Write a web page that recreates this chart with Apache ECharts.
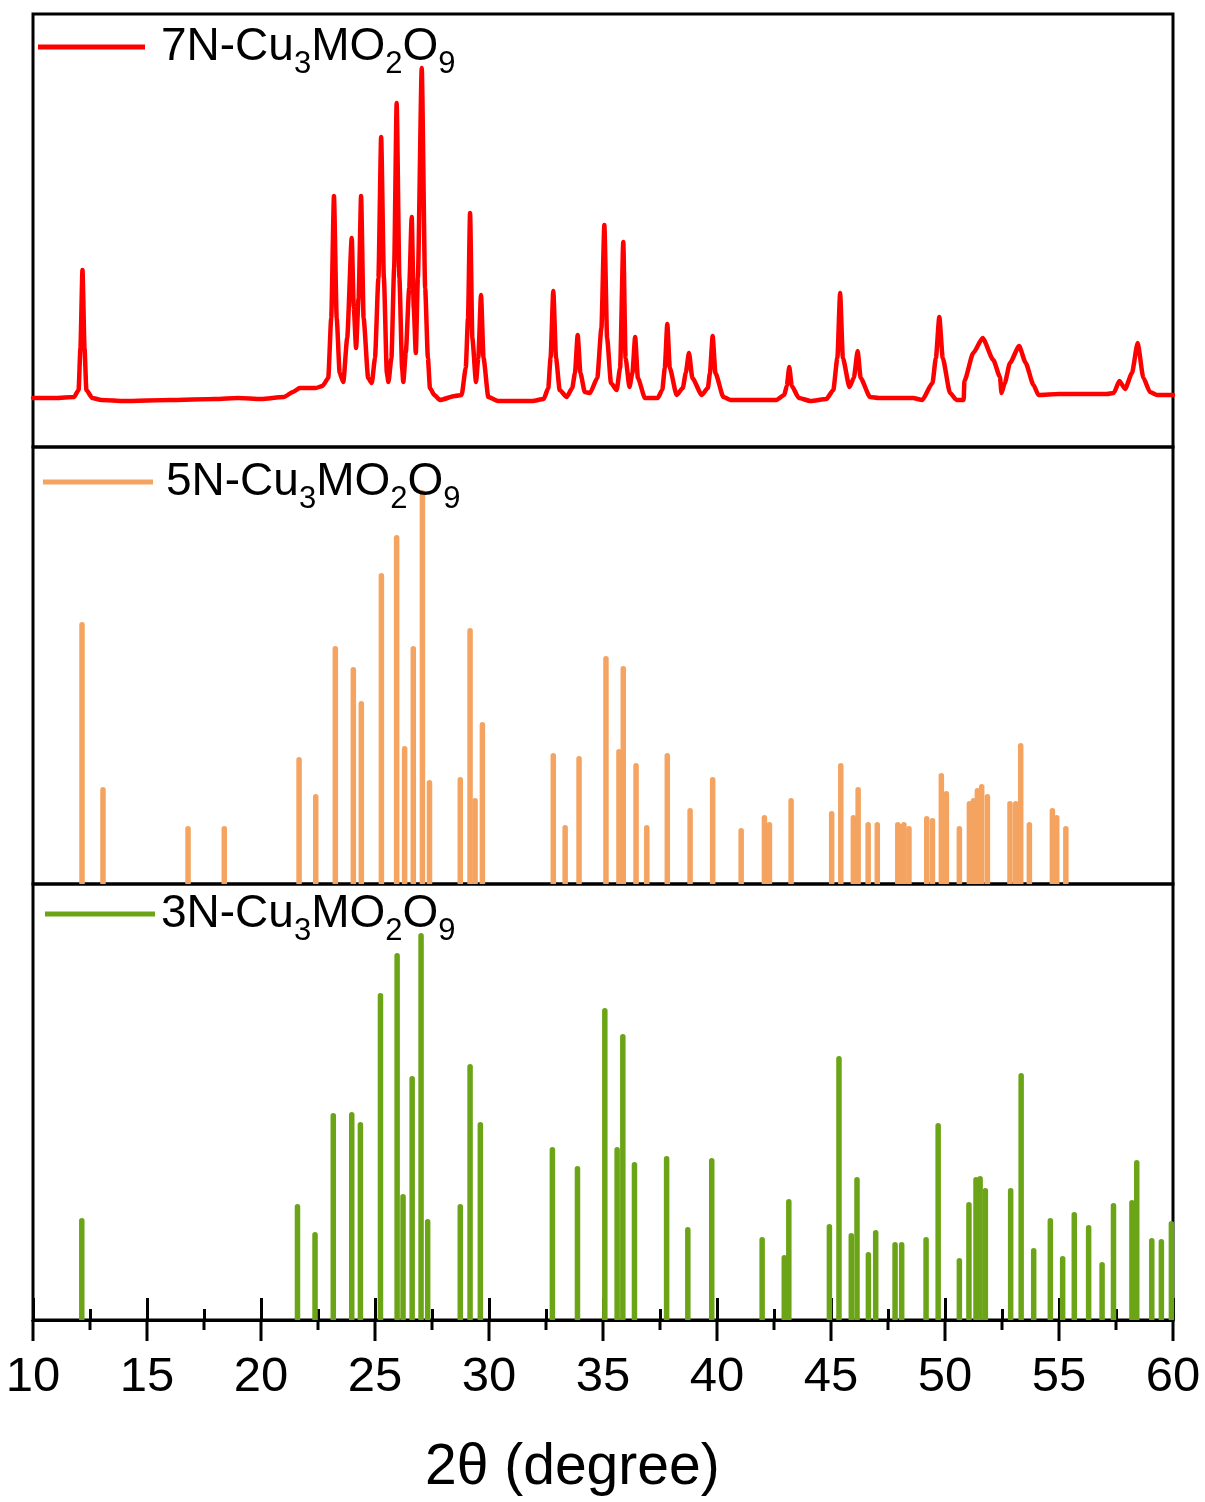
<!DOCTYPE html>
<html>
<head>
<meta charset="utf-8">
<script src="https://cdn.jsdelivr.net/npm/echarts@6/dist/echarts.min.js"></script>
<style>html,body{margin:0;padding:0;background:#fff;}#chart{width:1205px;height:1502px;}</style>
</head>
<body>
<div id="chart"></div>
<script>
// 2θ range and tick labels
var xMin = 10, xMax = 60, xInterval = 5;
var majorTickValues = [10, 15, 20, 25, 30, 35, 40, 45, 50, 55, 60];
var minorTickValues = [12.5, 17.5, 22.5, 27.5, 32.5, 37.5, 42.5, 47.5, 52.5, 57.5];

// 7N-Cu3MO2O9 measured pattern: [2θ, intensity (a.u.)]
var pattern7N = [[10.0,0],[11.0,0],[11.8,1],[12.0,8],[12.08,50],[12.17,128],[12.26,50],[12.34,8],[12.6,0],[13.0,-2],[14.0,-3],[16.0,-2],[18.0,-1],[19.0,0],[20.0,-1],[21.0,1],[21.4,6],[21.7,10],[22.4,10],[22.7,12],[22.95,20],[23.08,80],[23.20,202],[23.32,80],[23.45,25],[23.61,16],[23.78,60],[23.98,160],[24.07,90],[24.17,50],[24.28,100],[24.39,202],[24.50,80],[24.70,20],[24.86,15],[25.0,40],[25.15,120],[25.27,261],[25.39,120],[25.52,25],[25.59,16],[25.72,40],[25.84,130],[25.95,295],[26.07,120],[26.19,30],[26.24,16],[26.35,45],[26.50,110],[26.61,181],[26.70,90],[26.79,45],[26.88,120],[27.05,330],[27.20,110],[27.32,40],[27.41,10],[27.6,3],[27.85,-2],[28.5,2],[28.8,3],[28.98,30],[29.08,80],[29.17,185],[29.27,60],[29.43,16],[29.53,40],[29.65,103],[29.76,40],[29.97,1],[30.4,-3],[31.9,-3],[32.4,-1],[32.6,10],[32.70,40],[32.82,107],[32.94,40],[33.1,8],[33.41,1],[33.65,10],[33.77,25],[33.89,63],[34.01,25],[34.2,6],[34.43,5],[34.75,20],[34.93,70],[35.06,173],[35.18,60],[35.35,15],[35.60,8],[35.75,30],[35.89,156],[35.99,40],[36.16,11],[36.29,25],[36.41,61],[36.53,20],[36.84,0],[37.4,0],[37.6,8],[37.71,30],[37.82,74],[37.93,30],[38.23,3],[38.5,10],[38.63,25],[38.77,45],[38.92,20],[39.33,3],[39.6,10],[39.69,25],[39.81,62],[39.93,25],[40.28,1],[40.6,-2],[42.6,-2],[42.95,3],[43.06,12],[43.17,31],[43.28,12],[43.59,0],[44.1,-3],[44.8,-1],[45.1,8],[45.28,40],[45.40,105],[45.52,40],[45.81,11],[46.0,20],[46.17,47],[46.30,20],[46.71,1],[47.1,0],[48.6,0],[49.0,-2],[49.45,15],[49.60,40],[49.75,81],[49.90,40],[50.22,5],[50.51,-2],[50.82,-2],[50.85,17],[51.24,45],[51.65,60],[52.12,38],[52.41,21],[52.48,5],[52.62,15],[52.85,35],[53.25,52],[53.54,35],[53.88,13],[54.10,3],[55.0,4],[57.1,4],[57.4,5],[57.65,17],[57.90,9],[58.2,25],[58.45,55],[58.7,20],[58.99,6],[59.3,3],[60.0,3]];

// 5N-Cu3MO2O9 reflections: [2θ, intensity]
var sticks5N = [[12.15,262],[13.07,97],[16.80,58],[18.39,58],[21.67,127],[22.40,90],[23.26,238],[24.05,217],[24.40,183],[25.28,311],[25.95,349],[26.30,138],[26.68,238],[27.08,394],[27.39,104],[28.74,107],[29.17,256],[29.39,86],[29.71,162],[32.82,131],[33.34,59],[33.95,128],[35.13,228],[35.70,135],[35.89,218],[36.45,121],[36.92,59],[37.82,131],[38.82,76],[39.81,107],[41.06,56],[42.08,69],[42.30,62],[43.25,86],[45.03,73],[45.43,121],[45.98,69],[46.19,97],[46.63,62],[47.03,62],[47.93,62],[48.06,60],[48.20,62],[48.42,58],[49.20,68],[49.45,66],[49.84,111],[50.06,93],[50.63,58],[51.07,83],[51.25,86],[51.42,96],[51.61,100],[51.86,90],[52.85,83],[53.10,83],[53.32,141],[53.70,62],[54.71,76],[54.90,69],[55.30,58]];

// 3N-Cu3MO2O9 reflections: [2θ, intensity]
var sticks3N = [[12.14,102],[21.60,116],[22.37,88],[23.17,207],[23.98,208],[24.36,198],[25.24,327],[25.97,367],[26.23,126],[26.63,244],[27.02,387],[27.31,101],[28.74,116],[29.17,256],[29.62,198],[32.78,173],[33.88,154],[35.08,312],[35.62,173],[35.87,286],[36.38,158],[37.79,164],[38.72,93],[39.77,162],[41.98,83],[42.95,65],[43.15,121],[44.93,96],[45.35,264],[45.89,87],[46.14,143],[46.64,68],[46.96,90],[47.81,78],[48.10,78],[49.17,83],[49.70,197],[50.63,62],[51.05,118],[51.36,143],[51.54,144],[51.77,132],[52.88,132],[53.34,247],[53.89,72],[54.62,102],[55.16,64],[55.67,108],[56.30,95],[56.89,58],[57.39,117],[58.20,120],[58.41,160],[59.07,82],[59.49,81],[59.93,99]];

var seriesNames = ['7N-Cu3MO2O9', '5N-Cu3MO2O9', '3N-Cu3MO2O9'];
var legendParts = [['7N-Cu','3','MO','2','O','9'], ['5N-Cu','3','MO','2','O','9'], ['3N-Cu','3','MO','2','O','9']];
var xTitle = '2θ (degree)';

var FONT = "'Liberation Sans', Arial, sans-serif";
var chart = echarts.init(document.getElementById('chart'), null, {renderer: 'canvas'});

function richFor(gap) {
  return {
    f: {fontSize: 46, fontFamily: FONT, color: '#000', padding: [0, 0, 0, gap]},
    m: {fontSize: 46, fontFamily: FONT, color: '#000'},
    s: {fontSize: 31, fontFamily: FONT, color: '#000', padding: [34, 0, 0, 0]}
  };
}
function fmt(i) {
  var p = legendParts[i];
  return function () {
    return '{f|' + p[0] + '}{s|' + p[1] + '}{m|' + p[2] + '}{s|' + p[3] + '}{m|' + p[4] + '}{s|' + p[5] + '}';
  };
}
function legendFor(i, left, top, w, gap) {
  return {
    data: [seriesNames[i]], left: left, top: top, padding: 0,
    itemWidth: w, itemHeight: 5, icon: 'rect', selectedMode: false,
    formatter: fmt(i), textStyle: {rich: richFor(gap)}
  };
}

var hiddenX = function (g) {
  return {gridIndex: g, type: 'value', min: xMin, max: xMax, interval: xInterval, show: false};
};

var option = {
  backgroundColor: '#fff',
  animation: false,
  title: {
    text: xTitle, left: 425, top: 1440, padding: 0,
    textStyle: {fontSize: 57, fontWeight: 'normal', fontFamily: FONT, color: '#000'}
  },
  grid: [
    {left: 33, width: 1140, top: 14, height: 433, show: true, borderColor: '#000', borderWidth: 3, backgroundColor: 'transparent'},
    {left: 33, width: 1140, top: 447, height: 437, show: true, borderColor: '#000', borderWidth: 3, backgroundColor: 'transparent'},
    {left: 33, width: 1140, top: 884, height: 436, show: true, borderColor: '#000', borderWidth: 3, backgroundColor: 'transparent'}
  ],
  legend: [
    legendFor(0, 38, 24, 107, 11),
    legendFor(1, 43, 459, 110, 8),
    legendFor(2, 45, 891, 110, 1)
  ],
  xAxis: [
    hiddenX(0),
    hiddenX(1),
    {
      gridIndex: 2, type: 'value', min: xMin, max: xMax, interval: xInterval, position: 'bottom',
      axisLine: {show: true, onZero: false, lineStyle: {color: '#000', width: 3}},
      axisTick: {show: true, inside: true, length: 22, lineStyle: {color: '#000', width: 3}},
      minorTick: {show: true, splitNumber: 2, length: 11, lineStyle: {color: '#000', width: 3}},
      axisLabel: {show: true, fontSize: 49, fontFamily: FONT, color: '#000', margin: 33},
      splitLine: {show: false}, minorSplitLine: {show: false}
    }
  ],
  yAxis: [
    {gridIndex: 0, type: 'value', min: -49, max: 384, show: false},
    {gridIndex: 1, type: 'value', min: 0, max: 437, show: false},
    {gridIndex: 2, type: 'value', min: 0, max: 436, show: false}
  ],
  series: [
    {
      name: seriesNames[0], type: 'line', xAxisIndex: 0, yAxisIndex: 0,
      data: pattern7N, showSymbol: false, symbol: 'none', clip: true,
      smooth: 0.2, smoothMonotone: 'x',
      lineStyle: {color: '#FF0000', width: 4.5, join: 'round', cap: 'round'}, itemStyle: {color: '#FF0000'}
    },
    {
      name: seriesNames[1], type: 'bar', xAxisIndex: 1, yAxisIndex: 1,
      data: sticks5N, barWidth: 5.5,
      itemStyle: {color: '#F4A460', borderRadius: [2.75, 2.75, 0, 0]}
    },
    {
      name: seriesNames[2], type: 'bar', xAxisIndex: 2, yAxisIndex: 2,
      data: sticks3N, barWidth: 5.5,
      itemStyle: {color: '#6BA517', borderRadius: [2.75, 2.75, 0, 0]}
    }
  ]
};
chart.setOption(option);

// downward half of the crossing ticks: positions come from the x axis scale of the bottom panel
function addOuterTicks() {
  var lines = [];
  function push(v, len) {
    var p = chart.convertToPixel({xAxisIndex: 2, yAxisIndex: 2}, [v, 0]);
    if (!p) return;
    lines.push({
      type: 'line', z: 100, silent: true,
      shape: {x1: p[0], y1: p[1], x2: p[0], y2: p[1] + len},
      style: {stroke: '#000', lineWidth: 3}
    });
  }
  majorTickValues.forEach(function (v) { push(v, 21); });
  minorTickValues.forEach(function (v) { push(v, 10); });
  chart.setOption({graphic: {elements: lines}});
}
addOuterTicks();
</script>
</body>
</html>
